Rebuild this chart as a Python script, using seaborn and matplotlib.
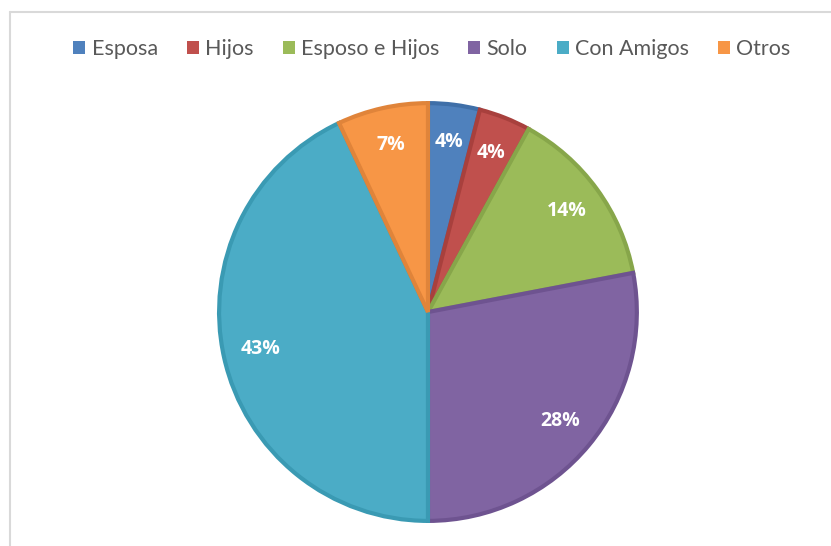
import matplotlib
matplotlib.use("Agg")
import matplotlib.pyplot as plt
from matplotlib.patches import Patch
from matplotlib.lines import Line2D
import seaborn as sns

# Living arrangement shares (percent)
categories = ["Esposa", "Hijos", "Esposo e Hijos", "Solo", "Con Amigos", "Otros"]
values = [4, 4, 14, 28, 43, 7]
labels = ["4%", "4%", "14%", "28%", "43%", "7%"]

sns.set_theme(style="white")
plt.rcParams["font.family"] = ["Lato", "DejaVu Sans"]

colors = ["#4F81BD", "#C0504D", "#9BBB59", "#8064A2", "#4BACC6", "#F79646"]
edges = ["#3F6FA8", "#A8403D", "#87A64A", "#6E5390", "#3A9AB3", "#E0843A"]

fig = plt.figure(figsize=(8.31, 5.46), dpi=100)
fig.patch.set_facecolor("white")

ax = fig.add_axes([0.2611, 0.0421, 0.5078, 0.7729])
wedges, texts = ax.pie(
    values,
    colors=colors,
    startangle=90,
    counterclock=False,
    radius=0.99,
    labels=labels,
    labeldistance=0.82,
    textprops=dict(color="white", fontsize=14, fontweight="bold",
                   family=["Open Sans", "DejaVu Sans"], ha="center", va="center"),
)
for w, ec in zip(wedges, edges):
    w.set_edgecolor(ec)
    w.set_linewidth(3)
ax.set_xlim(-1, 1)
ax.set_ylim(-1, 1)
ax.set_aspect("equal")
ax.axis("off")

handles = [Patch(facecolor=c, edgecolor="none") for c in colors]
fig.legend(
    handles, categories,
    loc="center", bbox_to_anchor=(432 / 831, 1 - 49 / 546),
    ncol=6, frameon=False, fontsize=15.5,
    handlelength=0.55, handleheight=0.55, handletextpad=0.3, columnspacing=1.35,
    labelcolor="#595959",
)

# Chart frame (top and left rules)
fig.add_artist(Line2D([10 / 831, 1], [1 - 12 / 546, 1 - 12 / 546], color="#D9D9D9", lw=1.5))
fig.add_artist(Line2D([10 / 831, 10 / 831], [0, 1 - 12 / 546], color="#D9D9D9", lw=1.5))

fig.savefig("out.png", dpi=100, facecolor="white")
